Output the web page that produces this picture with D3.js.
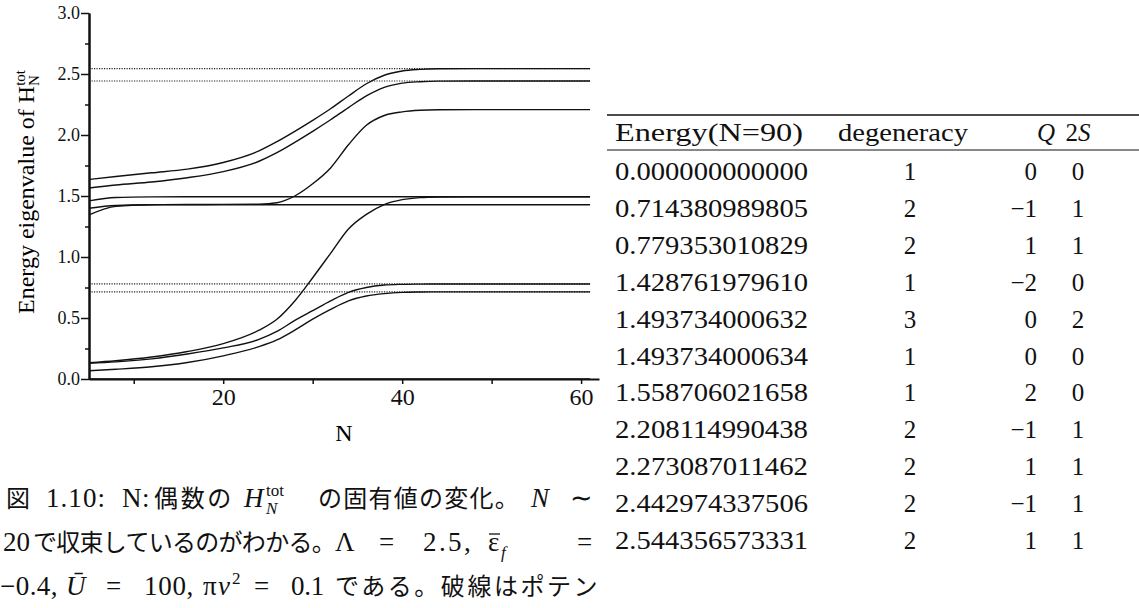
<!DOCTYPE html>
<html>
<head>
<meta charset="utf-8">
<script src="https://cdn.jsdelivr.net/npm/d3@7"></script>
<style>
  body { margin: 0; background: #fff; }
</style>
</head>
<body>
<svg id="fig"></svg>
<script>
var nGrid  = [5, 8, 12, 16, 20, 24, 26, 28, 30, 32, 34, 36, 38, 40, 42, 44, 48, 61];

// energy levels vs N (one array per curve)
var level0 = [0, 0, 0, 0, 0, 0, 0, 0, 0, 0, 0, 0, 0, 0, 0, 0, 0, 0];
var levelI = [0.068, 0.08, 0.10, 0.135, 0.19, 0.265, 0.32, 0.40, 0.49, 0.57, 0.64, 0.68, 0.70, 0.71, 0.713, 0.714, 0.714, 0.714];
var levelH = [0.128, 0.14, 0.165, 0.205, 0.255, 0.325, 0.39, 0.48, 0.56, 0.64, 0.71, 0.75, 0.77, 0.776, 0.778, 0.779, 0.779, 0.779];
var levelG = [0.134, 0.15, 0.18, 0.225, 0.29, 0.40, 0.49, 0.64, 0.83, 1.03, 1.23, 1.35, 1.43, 1.47, 1.487, 1.492, 1.494, 1.494];
var levelE = [1.40, 1.422, 1.428, 1.4288, 1.4288, 1.4288, 1.4288, 1.4288, 1.4288, 1.4288, 1.4288, 1.4288, 1.4288, 1.4288, 1.4288, 1.4288, 1.4288, 1.4288];
var levelC = [1.345, 1.415, 1.428, 1.43, 1.431, 1.433, 1.445, 1.50, 1.60, 1.73, 1.92, 2.08, 2.16, 2.19, 2.203, 2.207, 2.208, 2.208];
var levelD = [1.46, 1.488, 1.493, 1.494, 1.494, 1.494, 1.494, 1.494, 1.494, 1.494, 1.494, 1.494, 1.494, 1.494, 1.494, 1.494, 1.494, 1.494];
var levelB = [1.565, 1.59, 1.615, 1.65, 1.70, 1.785, 1.855, 1.94, 2.03, 2.125, 2.225, 2.32, 2.39, 2.425, 2.437, 2.442, 2.443, 2.443];
var levelA = [1.635, 1.66, 1.69, 1.72, 1.775, 1.87, 1.945, 2.03, 2.12, 2.215, 2.32, 2.42, 2.49, 2.525, 2.538, 2.543, 2.544, 2.544];

// dotted lines (potential levels)
var dottedLevels = [0.714380989805, 0.779353010829, 2.442974337506, 2.544356573331];

var yMajor = [0, 0.5, 1.0, 1.5, 2.0, 2.5, 3.0];
var yMinor = [0.25, 0.75, 1.25, 1.75, 2.25, 2.75];
var xTicks = [10, 20, 30, 40, 50, 60];
var xLabels = [20, 40, 60];

// table (N=90)
var tblHeader  = ["Energy(N=90)", "degeneracy", "Q", "2S"];
var energies   = ["0.000000000000", "0.714380989805", "0.779353010829", "1.428761979610",
                  "1.493734000632", "1.493734000634", "1.558706021658", "2.208114990438",
                  "2.273087011462", "2.442974337506", "2.544356573331"];
var degeneracy = [1, 2, 2, 1, 3, 1, 1, 2, 2, 2, 2];
var charge     = [0, -1, 1, -2, 0, 0, 2, -1, 1, -1, 1];
var spin2S     = [0, 1, 1, 0, 2, 0, 0, 1, 1, 1, 1];

var serif = "'Liberation Serif', 'Times New Roman', serif";
var jp = "'Noto Sans CJK JP', sans-serif";

var svg = d3.select("#fig")
  .attr("width", 1139)
  .attr("height", 608);

svg.append("rect").attr("width", 1139).attr("height", 608).attr("fill", "#fff");

// scales
var x = d3.scaleLinear().domain([5, 62]).range([89, 599]);
var y = d3.scaleLinear().domain([0, 3]).range([379, 13]);

// dotted lines
svg.selectAll(".dot-level")
  .data(dottedLevels)
  .join("line")
  .attr("class", "dot-level")
  .attr("x1", x(5)).attr("x2", x(61))
  .attr("y1", function(d) { return y(d); })
  .attr("y2", function(d) { return y(d); })
  .attr("stroke", "#222")
  .attr("stroke-width", 1.1)
  .attr("stroke-dasharray", "1.2,1.3");

// curves
var line = d3.line()
  .x(function(d, i) { return x(nGrid[i]); })
  .y(function(d) { return y(d); })
  .curve(d3.curveMonotoneX);

svg.selectAll(".level")
  .data([level0, levelI, levelH, levelG, levelE, levelC, levelD, levelB, levelA])
  .join("path")
  .attr("class", "level")
  .attr("d", line)
  .attr("fill", "none")
  .attr("stroke", "#111")
  .attr("stroke-width", 1.4);

// axes
function styleAxis(g) {
  g.attr("font-family", serif);
  g.select(".domain").attr("stroke", "#111").attr("stroke-width", 2);
  g.selectAll(".tick line").attr("stroke", "#111").attr("stroke-width", 1.5);
  g.selectAll(".tick text").attr("fill", "#111");
}

svg.append("g")
  .attr("transform", "translate(89,0)")
  .call(d3.axisLeft(y).tickValues(yMinor).tickSize(4).tickSizeOuter(0).tickFormat(""))
  .call(styleAxis);

svg.append("g")
  .attr("transform", "translate(89,0)")
  .call(d3.axisLeft(y).tickValues(yMajor).tickSize(8).tickSizeOuter(0).tickPadding(1).tickFormat(d3.format(".1f")))
  .call(styleAxis)
  .attr("font-size", 18);

svg.append("g")
  .attr("transform", "translate(0,379)")
  .call(d3.axisBottom(x).tickValues(xTicks).tickSize(5).tickSizeOuter(0).tickPadding(4)
    .tickFormat(function(d) { return xLabels.indexOf(d) >= 0 ? d : ""; }))
  .call(styleAxis)
  .attr("font-size", 24);

// axis titles
svg.append("text")
  .attr("x", x(33.5)).attr("y", 441)
  .attr("text-anchor", "middle")
  .attr("font-family", serif).attr("font-size", 24)
  .text("N");

var ylab = svg.append("text")
  .attr("transform", "translate(34,192) rotate(-90)")
  .attr("text-anchor", "middle")
  .attr("font-family", serif).attr("font-size", 24);
ylab.append("tspan").text("Energy eigenvalue of H");
ylab.append("tspan").attr("dy", -9).attr("font-size", 15).text("tot");
ylab.append("tspan").attr("dx", -16).attr("dy", 14).attr("font-size", 15).text("N");

// table
var rowY = d3.scaleLinear().domain([0, 10]).range([180, 549]);

svg.append("line").attr("x1", 607).attr("x2", 1139).attr("y1", 115).attr("y2", 115)
  .attr("stroke", "#111").attr("stroke-width", 1.6);
svg.append("line").attr("x1", 607).attr("x2", 1139).attr("y1", 150).attr("y2", 150)
  .attr("stroke", "#111").attr("stroke-width", 1);

var head = svg.append("g").attr("font-family", serif).attr("font-size", 25).attr("fill", "#111");
head.append("text").attr("x", 615).attr("y", 141)
  .attr("textLength", 188).attr("lengthAdjust", "spacingAndGlyphs").text(tblHeader[0]);
head.append("text").attr("x", 838).attr("y", 141)
  .attr("textLength", 130).attr("lengthAdjust", "spacingAndGlyphs").text(tblHeader[1]);
head.append("text").attr("x", 1046).attr("y", 141).attr("text-anchor", "middle")
  .attr("font-style", "italic").text(tblHeader[2]);
var h2s = head.append("text").attr("x", 1078).attr("y", 141).attr("text-anchor", "middle");
h2s.append("tspan").text("2");
h2s.append("tspan").attr("font-style", "italic").text("S");

var body = svg.append("g").attr("font-family", serif).attr("font-size", 25).attr("fill", "#111");

body.selectAll(".en")
  .data(energies)
  .join("text")
  .attr("x", 615)
  .attr("y", function(d, i) { return rowY(i); })
  .attr("textLength", 193).attr("lengthAdjust", "spacingAndGlyphs")
  .text(function(d) { return d; });

body.selectAll(".deg")
  .data(degeneracy)
  .join("text")
  .attr("x", 910)
  .attr("y", function(d, i) { return rowY(i); })
  .attr("text-anchor", "middle")
  .text(function(d) { return d; });

body.selectAll(".q")
  .data(charge)
  .join("text")
  .attr("x", 1037)
  .attr("y", function(d, i) { return rowY(i); })
  .attr("text-anchor", "end")
  .text(function(d) { return d < 0 ? "\u2212" + (-d) : d; });

body.selectAll(".s")
  .data(spin2S)
  .join("text")
  .attr("x", 1078)
  .attr("y", function(d, i) { return rowY(i); })
  .attr("text-anchor", "middle")
  .text(function(d) { return d; });

// caption: each piece placed where it sits in the justified line
// j = japanese, i = italic, up/dn = super/subscript, w = width to stretch to
function captionLine(yPos, parts) {
  var t = svg.append("text")
    .attr("y", yPos)
    .attr("font-family", serif).attr("font-size", 27).attr("fill", "#111");
  parts.forEach(function(p) {
    var s = t.append("tspan").attr("x", p.x).attr("y", yPos).text(p.t);
    if (p.j) s.attr("font-family", jp).attr("font-size", 24);
    if (p.i) s.attr("font-style", "italic");
    if (p.up) s.attr("font-size", 17).attr("y", yPos - 11);
    if (p.dn) s.attr("font-size", 17).attr("y", yPos + 7);
    if (p.w) {
      var w = s.node().getComputedTextLength();
      var n = p.t.length;
      s.attr("letter-spacing", (p.w - w) / n);
    }
  });
  return t;
}

captionLine(507, [
  {t: "図", x: 6, j: 1},
  {t: "1.10:", x: 46, w: 60},
  {t: "N:", x: 122, w: 28},
  {t: "偶数の", x: 154, j: 1, w: 80},
  {t: "H", x: 244, i: 1},
  {t: "tot", x: 266, up: 1},
  {t: "N", x: 266, i: 1, dn: 1},
  {t: "の固有値の変化。", x: 318, j: 1, w: 202},
  {t: "N", x: 531, i: 1},
  {t: "\u223C", x: 570}
]);

captionLine(551, [
  {t: "20", x: 3},
  {t: "で収束しているのがわかる。", x: 33, j: 1, w: 302},
  {t: "Λ", x: 335},
  {t: "=", x: 379},
  {t: "2.5,", x: 423, w: 50},
  {t: "\u03B5", x: 488},
  {t: "f", x: 501, i: 1, dn: 1},
  {t: "=", x: 577}
]);
// overbar of the epsilon
svg.append("line").attr("x1", 489).attr("x2", 500).attr("y1", 534).attr("y2", 534)
  .attr("stroke", "#111").attr("stroke-width", 1.3);

captionLine(595, [
  {t: "\u22120.4,", x: 0, w: 58},
  {t: "\u016A", x: 66, i: 1},
  {t: "=", x: 106},
  {t: "100,", x: 144, w: 50},
  {t: "π", x: 203},
  {t: "v", x: 218, i: 1},
  {t: "2", x: 232, up: 1},
  {t: "=", x: 254},
  {t: "0.1", x: 291, w: 33},
  {t: "である。破線はポテン", x: 335, j: 1, w: 265}
]);
</script>
</body>
</html>
